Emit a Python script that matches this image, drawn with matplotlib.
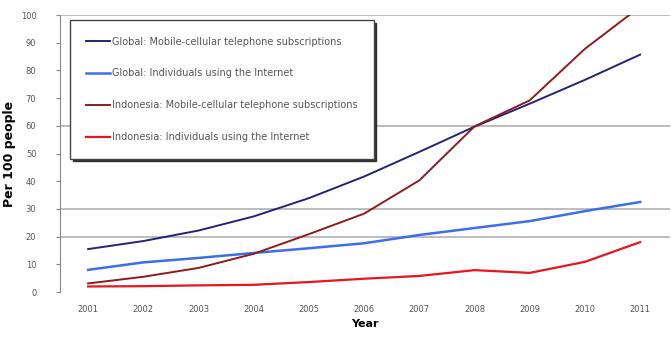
import matplotlib.pyplot as plt

years = [2001, 2002, 2003, 2004, 2005, 2006, 2007, 2008, 2009, 2010, 2011]
global_mobile = [15.5, 18.4, 22.2, 27.3, 33.9, 41.7, 50.6, 59.7, 68.0, 76.6, 85.7]
global_internet = [8.0, 10.7, 12.3, 14.1, 15.8, 17.6, 20.6, 23.1, 25.6, 29.2, 32.5]
indo_mobile = [3.1, 5.5, 8.7, 13.8, 20.9, 28.3, 40.3, 59.8, 69.2, 87.8, 103.0]
indo_internet = [2.0, 2.1, 2.4, 2.6, 3.6, 4.8, 5.8, 7.9, 6.9, 10.9, 18.0]

labels = [
    "Global: Mobile-cellular telephone subscriptions",
    "Global: Individuals using the Internet",
    "Indonesia: Mobile-cellular telephone subscriptions",
    "Indonesia: Individuals using the Internet",
]
yticks = list(range(0, 101, 10))
grid_levels = [20, 30, 60, 100]

fig = plt.figure(figsize=(6.71, 3.39), dpi=100)
ax = fig.add_axes([0.0894, 0.1386, 0.909, 0.817])

for g in grid_levels:
    ax.axhline(g, color="#b0b0b0", linewidth=1.2, zorder=0)

ax.plot(years, global_mobile, color="#23237a", linewidth=1.4, label=labels[0])
ax.plot(years, global_internet, color="#3b6fe6", linewidth=1.8, label=labels[1])
ax.plot(years, indo_mobile, color="#8e1c1c", linewidth=1.4, label=labels[2])
ax.plot(years, indo_internet, color="#e8141e", linewidth=1.6, label=labels[3])

ax.set_xlim(2000.49, 2011.54)
ax.set_ylim(0, 100)
ax.set_xticks(years)
ax.set_xticklabels([str(y) for y in years], fontsize=6, color="#555555")
ax.set_yticks(yticks)
ax.set_yticklabels([str(t) for t in yticks], fontsize=6, color="#555555")
ax.tick_params(axis="x", length=0, pad=9)
ax.tick_params(axis="y", length=3, color="#888888", pad=14)

for s in ["top", "right", "bottom"]:
    ax.spines[s].set_visible(False)
ax.spines["left"].set_color("#888888")

ax.set_ylabel("Per 100 people", fontsize=9, fontweight="bold")
ax.yaxis.set_label_coords(-0.072, 0.5)
ax.set_xlabel("Year", fontsize=8, fontweight="bold", labelpad=4)

leg = ax.legend(loc="upper left", bbox_to_anchor=(0.016, 0.982), fontsize=7,
                labelspacing=2.25, handlelength=2.4, handletextpad=0.2,
                borderpad=1.7, borderaxespad=0, fancybox=False,
                shadow={"color": "#222222", "alpha": 0.9}, framealpha=1)
leg.get_frame().set_edgecolor("#444444")
for t in leg.get_texts():
    t.set_color("#555555")

fig.savefig("out.png", dpi=100)
